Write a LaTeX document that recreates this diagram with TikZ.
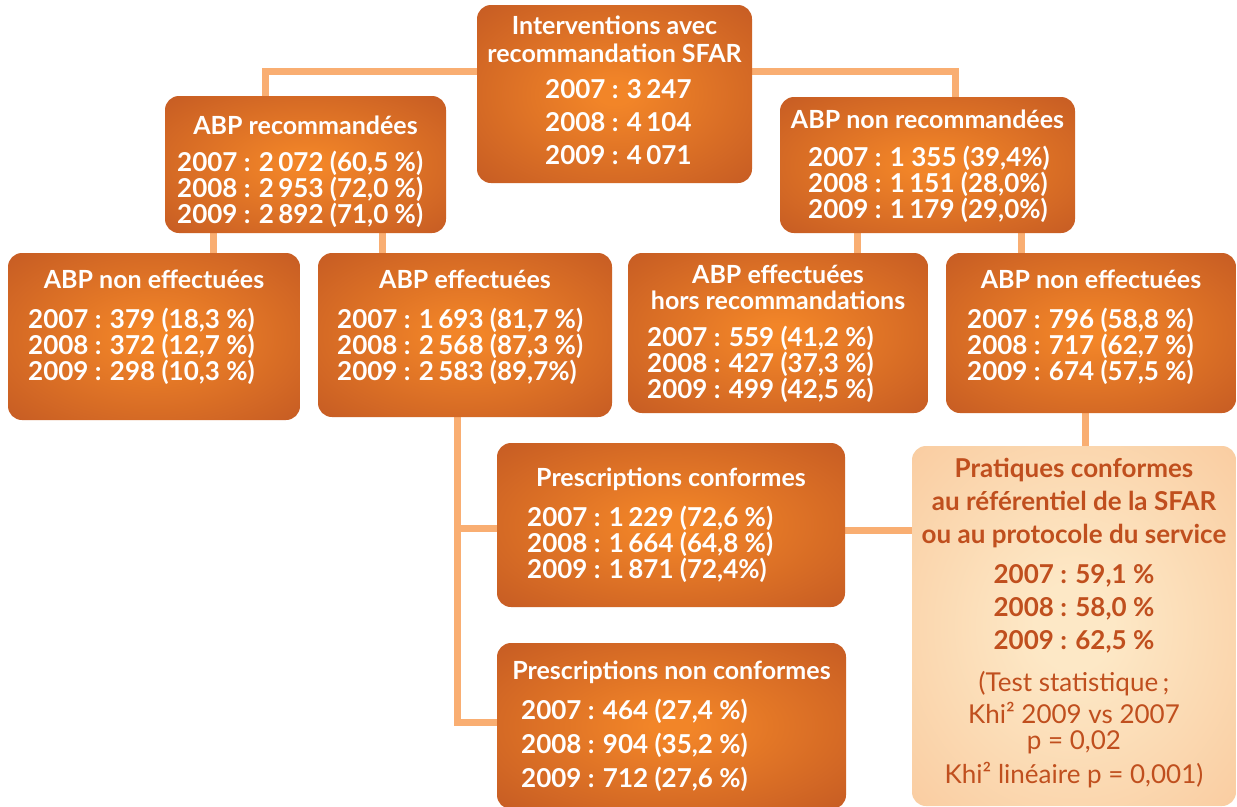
\documentclass[tikz,border=0pt]{standalone}
\usepackage{fontspec}
\setmainfont{Lato}
\usetikzlibrary{backgrounds}
\definecolor{boxedge}{HTML}{C35923}
\definecolor{boxmid}{HTML}{F28528}
\definecolor{linkcol}{HTML}{F9AE72}
\definecolor{pedge}{HTML}{F8C394}
\definecolor{pmid}{HTML}{FDE8C6}
\definecolor{ptext}{HTML}{C04F1E}
\pgfdeclareradialshading{oglow}{\pgfpoint{0bp}{0bp}}{color(0bp)=(boxmid); color(3bp)=(boxmid); color(38bp)=(boxedge); color(80bp)=(boxedge)}
\pgfdeclareradialshading{pglow}{\pgfpoint{0bp}{0bp}}{color(0bp)=(pmid); color(6bp)=(pmid); color(46bp)=(pedge); color(80bp)=(pedge)}
\tikzset{
  obox/.style={rounded corners=14pt, shading=oglow, draw=none, inner sep=0pt},
  pbox/.style={rounded corners=14pt, shading=pglow, draw=none, inner sep=0pt},
  link/.style={draw=linkcol, line width=7pt},
  wtitle/.style={text=white, font=\bfseries\fontsize{25}{26}\selectfont, align=center, anchor=north, inner sep=0pt},
  wnum/.style={text=white, font=\bfseries\fontsize{26}{26}\selectfont, align=left, anchor=north west, inner sep=0pt},
  ptxt/.style={text=ptext, font=\fontsize{26}{33}\selectfont, align=center, anchor=north, inner sep=0pt},
}
\begin{document}
\begin{tikzpicture}[x=1pt,y=-1pt]
\useasboundingbox (0,0) rectangle (1237,806);
% boxes
\node[obox, minimum width=275pt, minimum height=178pt] (top) at (614.5,94) {};
\node[obox, minimum width=281pt, minimum height=137pt] (rec) at (305.5,164.5) {};
\node[obox, minimum width=295pt, minimum height=136pt] (nrec) at (927.5,165) {};
\node[obox, minimum width=292pt, minimum height=167pt] (neffa) at (154,336.5) {};
\node[obox, minimum width=294pt, minimum height=164pt] (eff) at (465,335) {};
\node[obox, minimum width=300pt, minimum height=160pt] (hors) at (778,333) {};
\node[obox, minimum width=290pt, minimum height=160pt] (neffb) at (1091,333) {};
\node[obox, minimum width=348pt, minimum height=164pt] (pc) at (671,525) {};
\node[obox, minimum width=349pt, minimum height=166pt] (pnc) at (671.5,726) {};
\node[pbox, minimum width=324pt, minimum height=360pt] (prat) at (1074,626) {};
% titles
\node[wtitle] (top-t) at (614.5,16) {Interventions avec\\[2pt] recommandation SFAR};
\node[wtitle] (rec-t) at (305.5,116) {ABP recommandées};
\node[wtitle] (nrec-t) at (927.5,110) {ABP non recommandées};
\node[wtitle] (neffa-t) at (154,270) {ABP non effectuées};
\node[wtitle] (eff-t) at (465,270) {ABP effectuées};
\node[wtitle] (hors-t) at (778,265) {ABP effectuées\\ hors recommandations};
\node[wtitle] (neffb-t) at (1091,270) {ABP non effectuées};
\node[wtitle] (pc-t) at (671,468) {Prescriptions conformes};
\node[wtitle] (pnc-t) at (671.5,661) {Prescriptions non conformes};
% figures
\node[wnum] (top-n) at (545,79) {2007 : 3\,247\\[7pt] 2008 : 4\,104\\[7pt] 2009 : 4\,071};
\node[wnum] (rec-n) at (177,151) {2007 : 2\,072 (60,5 \%)\\ 2008 : 2\,953 (72,0 \%)\\ 2009 : 2\,892 (71,0 \%)};
\node[wnum] (nrec-n) at (808,146) {2007 : 1 355 (39,4\%)\\ 2008 : 1\,151 (28,0\%)\\ 2009 : 1\,179 (29,0\%)};
\node[wnum] (neffa-n) at (28,308) {2007 : 379 (18,3 \%)\\ 2008 : 372 (12,7 \%)\\ 2009 : 298 (10,3 \%)};
\node[wnum] (eff-n) at (337,308) {2007 : 1\,693 (81,7 \%)\\ 2008 : 2\,568 (87,3 \%)\\ 2009 : 2\,583 (89,7\%)};
\node[wnum] (hors-n) at (647,326) {2007 : 559 (41,2 \%)\\ 2008 : 427 (37,3 \%)\\ 2009 : 499 (42,5 \%)};
\node[wnum] (neffb-n) at (967,308) {2007 : 796 (58,8 \%)\\ 2008 : 717 (62,7 \%)\\ 2009 : 674 (57,5 \%)};
\node[wnum] (pc-n) at (527,506) {2007 : 1\,229 (72,6 \%)\\ 2008 : 1\,664 (64,8 \%)\\ 2009 : 1\,871 (72,4\%)};
\node[wnum] (pnc-n) at (521,699) {2007 : 464 (27,4 \%)\\[8pt] 2008 : 904 (35,2 \%)\\[8pt] 2009 : 712 (27,6 \%)};
\node[ptxt] (prat-t) at (1074,458) {\bfseries Pratiques conformes\\ \bfseries au référentiel de la SFAR\\ \bfseries ou au protocole du service\\[7pt] \bfseries 2007 : 59,1 \%\\ \bfseries 2008 : 58,0 \%\\ \bfseries 2009 : 62,5 \%\\[9pt] (Test statistique\,;\\[-1pt] Khi² 2009 vs 2007\\[-7pt] p = 0,02\\[1pt] Khi² linéaire p = 0,001)};
% connectors
\begin{scope}[on background layer]
\fill[white] (0,0) rectangle (1237,806);
\draw[link] ([yshift=23pt]top.west) -| ([xshift=-40.5pt]rec.north);
\draw[link] ([yshift=23pt]top.east) -| ([xshift=27.5pt]nrec.north);
\draw[link] ([xshift=-92.5pt]rec.south) -- ([xshift=-92.5pt]rec.south |- neffa.north);
\draw[link] ([xshift=76.5pt]rec.south) -- ([xshift=76.5pt]rec.south |- eff.north);
\draw[link] ([xshift=-70.5pt]nrec.south) -- ([xshift=-70.5pt]nrec.south |- hors.north);
\draw[link] ([xshift=93.5pt]nrec.south) -- ([xshift=93.5pt]nrec.south |- neffb.north);
\draw[link] ([xshift=-8pt]eff.south) |- ([yshift=-3pt]pc.west);
\draw[link] ([xshift=-8pt]eff.south) |- ([yshift=4pt]pnc.west);
\draw[link] ([yshift=-5pt]pc.east) -- ([yshift=-5pt]pc.east -| prat.west);
\draw[link] ([xshift=-6pt]neffb.south) -- ([xshift=-6pt]neffb.south |- prat.north);
\end{scope}
\end{tikzpicture}
\end{document}
